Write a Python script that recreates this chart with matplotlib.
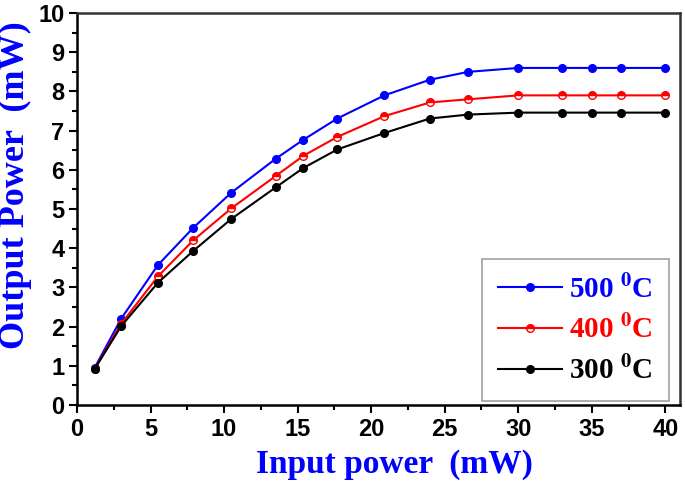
import matplotlib
matplotlib.use("Agg")
import matplotlib.pyplot as plt
from matplotlib.ticker import MultipleLocator

# input power (mW)
input_power = [1.2, 3.0, 5.5, 7.9, 10.5, 13.5, 15.4, 17.7, 20.9, 24.0, 26.6, 30.0, 33.0, 35.0, 37.0, 40.0]
# output power (mW) for each annealing temperature
out_500 = [0.95, 2.2, 3.57, 4.52, 5.42, 6.28, 6.77, 7.31, 7.90, 8.30, 8.50, 8.60, 8.60, 8.60, 8.60, 8.60]
out_400 = [0.92, 2.07, 3.28, 4.20, 5.02, 5.84, 6.36, 6.84, 7.37, 7.72, 7.80, 7.90, 7.90, 7.90, 7.90, 7.90]
out_300 = [0.92, 2.01, 3.12, 3.93, 4.75, 5.55, 6.05, 6.52, 6.94, 7.31, 7.41, 7.46, 7.46, 7.46, 7.46, 7.46]
labels = [r"500 $^{\mathbf{0}}$C", r"400 $^{\mathbf{0}}$C", r"300 $^{\mathbf{0}}$C"]

plt.rcParams["mathtext.fontset"] = "stix"

fig = plt.figure(figsize=(6.85, 4.84), dpi=100)
ax = fig.add_axes([0.1124, 0.1632, 0.8803, 0.8098])

ax.plot(input_power, out_500, color="blue", lw=1.5, marker="o", ms=5.5,
        mec="blue", label=labels[0])
ax.plot(input_power, out_400, color="red", lw=1.5, marker="o", ms=5.5,
        mec="red", fillstyle="top", markerfacecoloralt="white", label=labels[1])
ax.plot(input_power, out_300, color="black", lw=1.5, marker="o", ms=5.5,
        mec="black", label=labels[2])

ax.set_xlim(0, 41)
ax.set_ylim(0, 10)
ax.xaxis.set_major_locator(MultipleLocator(5))
ax.xaxis.set_minor_locator(MultipleLocator(2.5))
ax.yaxis.set_major_locator(MultipleLocator(1))
ax.yaxis.set_minor_locator(MultipleLocator(0.5))
ax.tick_params(which="both", direction="out", top=False, right=False, width=1.5)
ax.tick_params(which="major", length=6, pad=3)
ax.tick_params(which="minor", length=3.5)
for lab in ax.get_xticklabels() + ax.get_yticklabels():
    lab.set_fontfamily("Liberation Sans")
    lab.set_fontweight("bold")
    lab.set_fontsize(17)

for side in ["left", "bottom"]:
    ax.spines[side].set_linewidth(1.8)
for side in ["top", "right"]:
    ax.spines[side].set_linewidth(1.8)
    ax.spines[side].set_color("#333333")

ax.set_xlabel("Input power  (mW)", family="Liberation Serif", weight="bold",
              fontsize=24, color="blue")
ax.set_ylabel("Output Power  (mW)", family="Liberation Serif", weight="bold",
              fontsize=26, color="blue")
ax.xaxis.set_label_coords(0.527, -0.112)
ax.yaxis.set_label_coords(-0.075, 0.56)

leg = ax.legend(loc="lower right", bbox_to_anchor=(669 / 685, 83 / 484),
                bbox_transform=fig.transFigure, borderaxespad=0,
                handlelength=2.2, handletextpad=0.25,
                fancybox=False, edgecolor="#888888", borderpad=0.55, labelspacing=0.42,
                prop={"family": "Liberation Serif", "weight": "bold", "size": 21})
leg.get_frame().set_linewidth(1.2)
for text, c in zip(leg.get_texts(), ["blue", "red", "black"]):
    text.set_color(c)

fig.savefig("out.png", dpi=100)
